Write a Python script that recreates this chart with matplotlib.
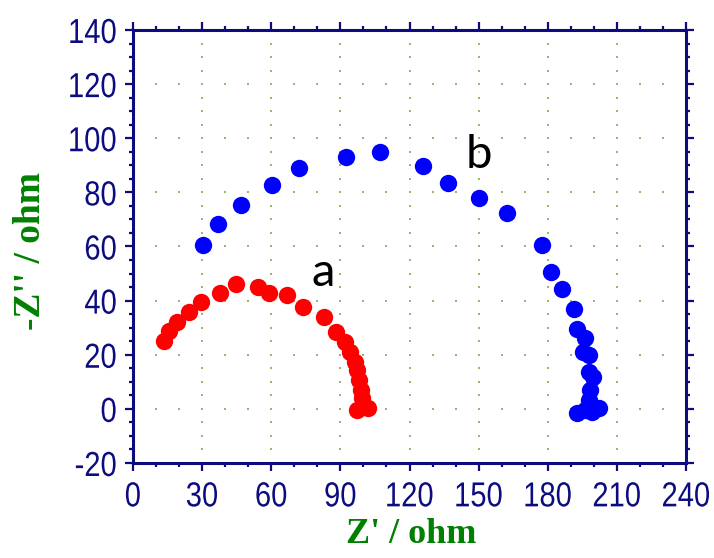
import numpy as np
import matplotlib
matplotlib.use("Agg")
import matplotlib.pyplot as plt
from matplotlib.patheffects import AbstractPathEffect
from matplotlib.transforms import Affine2D

# ---- data ----
a_x = [13.5, 15.6, 19.2, 24.3, 29.4, 37.8, 44.9, 54.1, 59.1, 67.0, 73.9, 82.9,
       88.1, 92.1, 94.2, 96.4, 97.4, 98.3, 98.9, 99.3, 100.0, 97.4, 102.2]
a_y = [25.2, 28.8, 32.2, 35.9, 39.6, 42.9, 46.0, 45.2, 42.9, 42.1, 37.8, 33.8,
       28.5, 24.8, 21.1, 17.4, 14.4, 10.7, 7.0, 3.9, 1.4, -0.4, 0.2]

b_x = [30.3, 37.0, 46.9, 60.5, 72.1, 92.4, 107.3, 125.8, 136.5, 150.2, 162.2,
       177.7, 181.4, 186.4, 191.2, 192.6, 196.3, 195.5, 197.7, 197.7, 199.6,
       198.4, 197.7, 192.6, 196.3, 202.1, 199.1]
b_y = [60.6, 68.2, 75.5, 82.9, 89.1, 93.2, 94.8, 89.9, 83.4, 77.8, 72.3,
       60.6, 50.5, 44.3, 36.8, 29.4, 26.1, 21.1, 19.9, 13.7, 11.9,
       7.0, 3.3, -1.4, -0.4, 0.2, -1.0]

x_ticks = [0, 30, 60, 90, 120, 150, 180, 210, 240]
y_ticks = [-20, 0, 20, 40, 60, 80, 100, 120, 140]
xlabel = "Z' / ohm"
ylabel = "-Z'' / ohm"
labels = [("a", 82.5, 45.4), ("b", 150.2, 89.0)]

navy = "#0c0c80"
green = "#008000"


class Narrow(AbstractPathEffect):
    """Horizontally condense glyphs around a pivot (right edge or centre)."""
    def __init__(self, sx=0.85, anchor='center'):
        super().__init__()
        self.sx = sx
        self.anchor = anchor

    def draw_path(self, renderer, gc, tpath, affine, rgbFace=None):
        v = tpath.vertices
        if len(v):
            xmin, xmax = v[:, 0].min(), v[:, 0].max()
        else:
            xmin = xmax = 0
        piv = xmax if self.anchor == 'right' else 0.5 * (xmin + xmax)
        pre = Affine2D().translate(-piv, 0).scale(self.sx, 1).translate(piv, 0)
        renderer.draw_path(gc, tpath, pre + affine, rgbFace)


fig = plt.figure(figsize=(7.14, 5.58), dpi=100)
ax = fig.add_axes([133/714, 1-463/558, (686-133)/714, (463-30)/558])
ax.set_xlim(0, 240)
ax.set_ylim(-20, 140)

# dotted grid (dots at minor positions along major lines)
gx_lines = np.arange(30, 211, 30)
gy_dots = np.arange(-15, 136, 5)
gy_lines = np.arange(0, 121, 20)
gx_dots = np.arange(10, 231, 10)
GX, GY = np.meshgrid(gx_lines, gy_dots)
ax.scatter(GX.ravel(), GY.ravel(), s=2.2, marker='s', color='#9ab86a', linewidths=0, zorder=1)
GX2, GY2 = np.meshgrid(gx_dots, gy_lines)
ax.scatter(GX2.ravel(), GY2.ravel(), s=2.2, marker='s', color='#9ab86a', linewidths=0, zorder=1)

ax.plot(a_x, a_y, 'o', color='#ff0000', ms=12.5, mec='none', zorder=3)
ax.plot(b_x, b_y, 'o', color='#0000ff', ms=12.5, mec='none', zorder=3)

for t, x, y in labels:
    ax.text(x, y, t, ha='center', va='baseline', fontsize=34,
            family=['Lato', 'DejaVu Sans'], color='black')

ax.set_xticks(x_ticks)
ax.set_yticks(y_ticks)
ax.set_xticks(np.arange(0, 241, 10), minor=True)
ax.set_yticks(np.arange(-20, 141, 5), minor=True)
ax.set_xticklabels([str(v) for v in x_ticks])
ax.set_yticklabels([str(v) for v in y_ticks])

for s in ax.spines.values():
    s.set_color(navy)
    s.set_linewidth(2.2)

ax.tick_params(which='both', direction='out', color=navy, width=1.6,
               top=True, right=True, labeltop=False, labelright=False)
ax.tick_params(which='major', length=5.5)
ax.tick_params(which='minor', length=3)
ax.tick_params(axis='x', which='major', pad=7)
ax.tick_params(axis='y', which='major', pad=6)
for lab in ax.get_xticklabels():
    lab.set_family(['Liberation Sans', 'DejaVu Sans'])
    lab.set_fontsize(25)
    lab.set_color(navy)
    lab.set_path_effects([Narrow(0.84, 'center')])
for lab in ax.get_yticklabels():
    lab.set_family(['Liberation Sans', 'DejaVu Sans'])
    lab.set_fontsize(25)
    lab.set_color(navy)
    lab.set_path_effects([Narrow(0.84, 'right')])

ax.set_xlabel(xlabel, fontsize=26, fontweight='bold', color=green,
              family=['Liberation Serif', 'DejaVu Serif'])
ax.set_ylabel(ylabel, fontsize=27, fontweight='bold', color=green,
              family=['Liberation Serif', 'DejaVu Serif'])
ax.xaxis.set_label_coords(0.503, -0.127)
ax.yaxis.set_label_coords(-0.154, 0.49)

fig.savefig("out.png", dpi=100)
